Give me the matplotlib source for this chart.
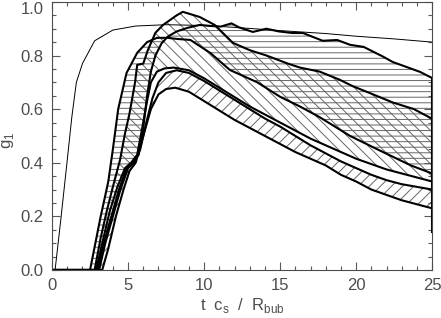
import numpy as np
import matplotlib
matplotlib.use('Agg')
import matplotlib.pyplot as plt
from matplotlib.ticker import MultipleLocator, FormatStrFormatter

plt.rcParams['font.family'] = ['Liberation Sans', 'DejaVu Sans']
plt.rcParams['hatch.color'] = '0.4'
plt.rcParams['hatch.linewidth'] = 0.7

# thin reference curve
thin_t = [0, 0.2, 0.6, 1.0, 1.3, 1.6, 2.0, 2.8, 4.0, 5.5, 7.5, 10, 12, 15, 18, 20, 22.5, 25]
thin_g = [0, 0, 0.2, 0.41, 0.57, 0.7, 0.77, 0.855, 0.895, 0.91, 0.915, 0.912, 0.905,
          0.893, 0.882, 0.872, 0.862, 0.85]

# horizontal-hatched band: upper (wavy) and lower edge
q_t = [0, 3.0, 3.4, 3.9, 4.4, 4.9, 5.3, 5.7, 6.0, 6.25, 6.5, 6.8, 7.2, 7.6, 8.2, 8.9, 9.7,
       10.5, 11.1, 11.8, 12.3, 13.2, 14.1, 14.9, 15.8, 16.5, 17.8, 18.75, 19.6, 20.5, 21.8,
       22.4, 24.2, 25]
q_g = [0, 0, 0.1, 0.2, 0.3, 0.38, 0.4, 0.43, 0.53, 0.65, 0.74, 0.8, 0.845, 0.87, 0.89,
       0.903, 0.914, 0.91, 0.908, 0.92, 0.905, 0.888, 0.90, 0.89, 0.884, 0.884, 0.855,
       0.858, 0.84, 0.832, 0.795, 0.776, 0.739, 0.716]
l_t = [0, 2.5, 3.2, 3.7, 4.0, 4.35, 4.9, 5.6, 6.25, 6.9, 7.6, 8.2, 9.1, 10.4, 11.7, 13.5,
       15.0, 16.3, 17.6, 19.6, 21.4, 23.6, 25]
l_g = [0, 0, 0.2, 0.33, 0.45, 0.6, 0.735, 0.81, 0.85, 0.866, 0.866, 0.862, 0.858, 0.81,
       0.746, 0.70, 0.646, 0.61, 0.57, 0.50, 0.45, 0.39, 0.36]

# diagonal-hatched band
p_t = [0, 2.8, 3.2, 3.6, 4.0, 4.47, 4.8, 5.1, 5.46, 5.6, 6.0, 6.3, 6.8, 7.3, 8.2, 8.6, 9.7,
       10.7, 11.9, 13.0, 14.1, 15.5, 16.3, 17.6, 18.9, 19.8, 20.9, 22.4, 23.8, 25]
p_g = [0, 0, 0.12, 0.22, 0.31, 0.41, 0.51, 0.585, 0.70, 0.765, 0.77, 0.82, 0.885, 0.914,
       0.95, 0.963, 0.944, 0.914, 0.847, 0.82, 0.80, 0.77, 0.755, 0.74, 0.71, 0.685, 0.66,
       0.625, 0.60, 0.564]
s_t = [0, 2.9, 3.3, 3.8, 4.3, 4.8, 5.2, 5.6, 5.9, 6.25, 6.5, 6.9, 7.4, 8.0, 9, 10, 11, 12,
       13, 14, 15, 16, 17, 18, 19, 20, 21, 22, 23, 24, 25]
s_g = [0, 0, 0.1, 0.22, 0.31, 0.38, 0.4, 0.43, 0.52, 0.63, 0.7, 0.74, 0.752, 0.755, 0.745,
       0.715, 0.68, 0.645, 0.61, 0.58, 0.55, 0.52, 0.49, 0.465, 0.44, 0.415, 0.395, 0.375,
       0.36, 0.345, 0.33]

# forward-diagonal band
c1_t = [0, 3.1, 3.5, 4.0, 4.5, 5.0, 5.4, 5.8, 6.2, 6.6, 7.0, 7.5, 8.2, 9, 10, 11, 12, 13,
        14, 15, 16, 17, 18, 19, 20, 21, 22, 23, 24, 25]
c1_g = [0, 0, 0.1, 0.2, 0.3, 0.38, 0.4, 0.45, 0.55, 0.64, 0.7, 0.735, 0.745, 0.735, 0.705,
        0.67, 0.635, 0.6, 0.565, 0.535, 0.5, 0.465, 0.435, 0.405, 0.38, 0.355, 0.335, 0.32,
        0.31, 0.30]
c2_t = [0, 3.3, 3.7, 4.2, 4.7, 5.1, 5.5, 6.0, 6.5, 7.0, 7.5, 8.1, 9, 10, 11, 12, 13, 14,
        15, 16, 17, 18, 19, 20, 21, 22, 23, 24, 25]
c2_g = [0, 0, 0.08, 0.2, 0.3, 0.37, 0.4, 0.5, 0.6, 0.655, 0.675, 0.68, 0.665, 0.63, 0.595,
        0.56, 0.53, 0.5, 0.47, 0.44, 0.415, 0.39, 0.355, 0.33, 0.30, 0.28, 0.26, 0.245, 0.23]

edge_low = 0.14  # bottom of the closing line at t = 25


def band(ax, t_up, g_up, t_lo, g_lo, hatch):
    xs = np.concatenate([t_up, t_lo[::-1]])
    ys = np.concatenate([g_up, g_lo[::-1]])
    ax.fill(xs, ys, facecolor='none', edgecolor='0.4', linewidth=0, hatch=hatch)


fig = plt.figure(figsize=(4.41, 3.18), dpi=100)
ax = fig.add_axes([0.118, 0.151, 0.862, 0.843])

band(ax, q_t, q_g, l_t, l_g, '---')
band(ax, p_t, p_g, s_t, s_g, '\\\\\\')
band(ax, c1_t, c1_g, c2_t, c2_g, '///')

for t, g in [(q_t, q_g), (l_t, l_g), (p_t, p_g), (s_t, s_g), (c1_t, c1_g), (c2_t, c2_g)]:
    ax.plot(t, g, color='black', lw=1.5, solid_joinstyle='round')
ax.plot([q_t[-1], q_t[-1]], [edge_low, q_g[-1]], color='black', lw=1.5)
ax.plot(thin_t, thin_g, color='black', lw=0.7)

ax.set_xlim(0, 25)
ax.set_ylim(0, 1.0)
ax.xaxis.set_major_locator(MultipleLocator(5))
ax.xaxis.set_minor_locator(MultipleLocator(1))
ax.yaxis.set_major_locator(MultipleLocator(0.2))
ax.yaxis.set_minor_locator(MultipleLocator(0.05))
ax.yaxis.set_major_formatter(FormatStrFormatter('%.1f'))
ax.tick_params(which='both', direction='in', top=True, right=True, color='0.35',
               width=0.8, labelsize=12, labelcolor='0.3')
ax.tick_params(which='major', length=6)
ax.tick_params(which='minor', length=3)
ax.tick_params(axis='x', pad=6)
ax.tick_params(axis='y', pad=6)
for sp in ax.spines.values():
    sp.set_color('0.3')
    sp.set_linewidth(0.8)

ax.set_xlabel(r't  c$_\mathregular{s}$  /  R$_\mathregular{bub}$', fontsize=12, color='0.3',
              labelpad=2)
ax.set_ylabel(r'g$_\mathregular{1}$', fontsize=12, color='0.3')
ax.yaxis.set_label_coords(-0.095, 0.485)

# keep the top label inside the figure
fig.canvas.draw()
for tick in ax.yaxis.get_major_ticks():
    if abs(tick.get_loc() - 1.0) < 1e-6:
        tick.label1.set_verticalalignment('top')

fig.savefig('out.png', dpi=100)
